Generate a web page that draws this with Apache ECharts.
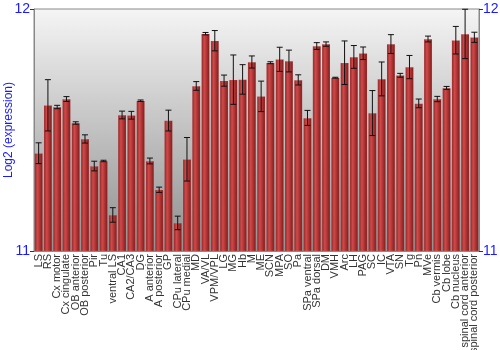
<!DOCTYPE html>
<html><head><meta charset="utf-8">
<script src="https://cdn.jsdelivr.net/npm/echarts@6/dist/echarts.min.js"></script>
<style>html,body{margin:0;padding:0;background:#fff}#c{width:500px;height:350px}</style>
</head><body><div id="c"></div>
<script>
var categories = ["LS","RS","Cx motor","Cx cingulate","OB anterior","OB posterior","Pir","Tu","ventral LS","CA1","CA2/CA3","DG","A anterior","A posterior","GP","CPu lateral","CPu medial","MD","VA/VL","VPM/VPL","LG","MG","Hb","M","ME","SCN","MPA","SO","Pa","SPa ventral","SPa dorsal","DM","VMH","Arc","LH","PAG","SC","IC","VTA","SN","Tg","Pn","MVe","Cb vermis","Cb lobe","Cb nucleus","spinal cord anterior","spinal cord posterior"];
var values = [11.404,11.602,11.595,11.628,11.529,11.463,11.351,11.372,11.149,11.562,11.561,11.621,11.372,11.253,11.539,11.116,11.379,11.682,11.898,11.869,11.704,11.708,11.709,11.781,11.639,11.778,11.792,11.785,11.707,11.550,11.847,11.855,11.716,11.778,11.802,11.817,11.570,11.711,11.855,11.726,11.760,11.610,11.876,11.628,11.674,11.871,11.897,11.883];
var errors = [0.043,0.106,0.007,0.010,0.005,0.017,0.020,0.003,0.030,0.016,0.016,0.003,0.012,0.011,0.043,0.028,0.090,0.018,0.005,0.042,0.023,0.102,0.061,0.025,0.063,0.004,0.050,0.045,0.021,0.031,0.014,0.009,0.002,0.090,0.047,0.026,0.093,0.070,0.039,0.008,0.048,0.018,0.012,0.011,0.006,0.057,0.102,0.021];
var yTicks = [11, 12];

var errData = values.map(function(v,i){return [i, v-errors[i], v+errors[i]];});
var chart = echarts.init(document.getElementById('c'));
chart.setOption({
  animation:false,
  grid:{left:34,right:21,top:9,bottom:99,show:true,borderColor:'#888',borderWidth:1,
    containLabel:false,outerBoundsMode:'none',
    backgroundColor:{type:'linear',x:0,y:0,x2:0,y2:1,colorStops:[{offset:0,color:'#f5f5f5'},{offset:1,color:'#8e8e8e'}]}},
  xAxis:{type:'category',data:categories,
    axisLine:{show:true,lineStyle:{color:'#888'}},axisTick:{show:false},
    axisLabel:{interval:0,rotate:90,fontSize:11,color:'#333',fontFamily:'Liberation Sans, Arial',margin:3}},
  yAxis:[
    {type:'value',min:11,max:12,interval:1,name:'Log2 (expression)',nameLocation:'middle',nameGap:19,nameMoveOverlap:false,
     nameTextStyle:{color:'#1a1aff',fontSize:12,fontFamily:'Liberation Sans, Arial'},
     axisLine:{show:true,lineStyle:{color:'#888'}},axisTick:{show:true,length:4,lineStyle:{color:'#333'}},
     splitLine:{show:false},
     axisLabel:{color:'#1a1aff',fontSize:14,fontFamily:'Liberation Sans, Arial',margin:4}},
    {type:'value',min:11,max:12,interval:1,position:'right',
     axisLine:{show:true,lineStyle:{color:'#888'}},axisTick:{show:true,length:4,lineStyle:{color:'#333'}},
     splitLine:{show:false},
     axisLabel:{color:'#1a1aff',fontSize:14,fontFamily:'Liberation Sans, Arial',margin:4}}
  ],
  series:[
    {type:'bar',data:values,barCategoryGap:'10%',
     itemStyle:{color:{type:'linear',x:0,y:0,x2:1,y2:0,colorStops:[
       {offset:0,color:'#8a2222'},{offset:0.35,color:'#cf4a4a'},{offset:0.6,color:'#b43636'},{offset:1,color:'#7a1a1a'}]},
       borderColor:'rgba(255,200,200,0.25)',borderWidth:0.5}},
    {type:'custom',data:errData,z:10,
     renderItem:function(params,api){
       var x=api.value(0);
       var lo=api.coord([x,api.value(1)]);
       var hi=api.coord([x,api.value(2)]);
       var w=3;
       var st={stroke:'#111',lineWidth:1};
       return {type:'group',children:[
         {type:'line',shape:{x1:lo[0],y1:lo[1],x2:hi[0],y2:hi[1]},style:st},
         {type:'line',shape:{x1:lo[0]-w,y1:lo[1],x2:lo[0]+w,y2:lo[1]},style:st},
         {type:'line',shape:{x1:hi[0]-w,y1:hi[1],x2:hi[0]+w,y2:hi[1]},style:st}
       ]};
     }}
  ]
});
</script></body></html>
